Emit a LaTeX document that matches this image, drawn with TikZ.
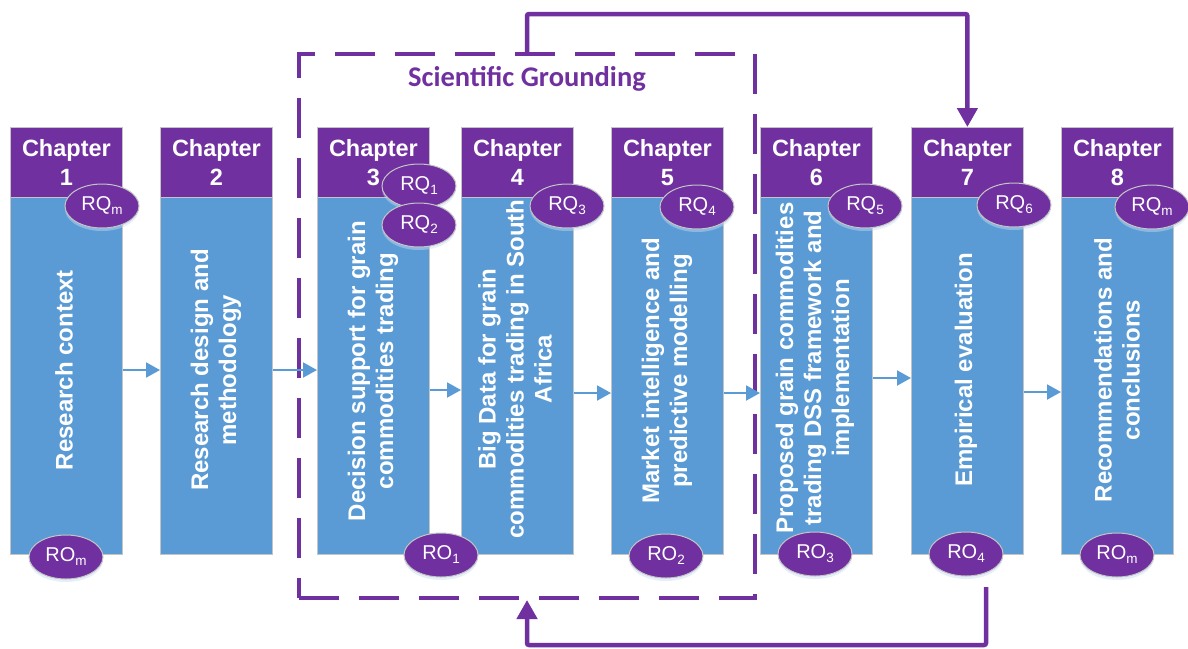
\documentclass[tikz,border=0pt]{standalone}
\usepackage{fontspec}
\setmainfont{Liberation Sans}
\newfontfamily\calibfont{Carlito}
\usetikzlibrary{arrows.meta,shapes.geometric,shadows}
\definecolor{vpurple}{HTML}{7030A0}
\definecolor{vblue}{HTML}{5B9BD5}
\definecolor{vgrey}{HTML}{C4C4C4}
\newcommand{\sbs}[1]{\raisebox{-0.2em}{\fontsize{13.5}{13.5}\selectfont #1}}
\begin{document}
\begin{tikzpicture}[x=1pt,y=-1pt,
  header/.style={draw=vgrey, line width=0.8pt, fill=vpurple, text=white,
    minimum width=112pt, minimum height=70pt, inner sep=0pt, align=center,
    font=\bfseries\fontsize{23.5}{29}\selectfont, anchor=north west},
  body/.style={draw=vgrey, line width=0.8pt, fill=vblue,
    minimum width=112pt, minimum height=357pt, inner sep=0pt, anchor=north west},
  chaptext/.style={text=white, rotate=90, align=center, inner sep=0pt,
    font=\bfseries\fontsize{24}{28}\selectfont},
  tag/.style={ellipse, draw=vgrey, line width=1pt, fill=vpurple, text=white,
    minimum width=74pt, minimum height=44pt, inner sep=0pt,
    font=\fontsize{20}{20}\selectfont,
    drop shadow={shadow xshift=0pt, shadow yshift=-3pt, fill=vblue!35, opacity=0.45}},
  flow/.style={vblue, line width=2pt, -{Triangle[length=14pt,width=15pt]}},
  loopback/.style={vpurple, line width=4.5pt, rounded corners=2pt, -{Triangle[length=19pt,width=20pt]}},
  frame/.style={draw=vpurple, line width=4pt, dash pattern=on 40pt off 20pt,
    minimum width=456pt, minimum height=544pt, inner sep=0pt, anchor=north west},
]
\useasboundingbox (0,0) rectangle (1188,648);

% dashed frame
\node[frame] (sg) at (297,52) {};
\node[text=vpurple, font=\calibfont\bfseries\fontsize{28.5}{32}\selectfont] (sgt) at (527,79) {Scientific Grounding};

% chapter boxes
\node[header] (h1) at (10,127) {Chapter\\1};
\node[body] (b1) at (10,197) {};
\node[header] (h2) at (160,127) {Chapter\\2};
\node[body] (b2) at (160,197) {};
\node[header] (h3) at (317,127) {Chapter\\3};
\node[body] (b3) at (317,197) {};
\node[header] (h4) at (461,127) {Chapter\\4};
\node[body] (b4) at (461,197) {};
\node[header] (h5) at (611,127) {Chapter\\5};
\node[body] (b5) at (611,197) {};
\node[header] (h6) at (760,127) {Chapter\\6};
\node[body] (b6) at (760,197) {};
\node[header] (h7) at (911,127) {Chapter\\7};
\node[body] (b7) at (911,197) {};
\node[header] (h8) at (1061,127) {Chapter\\8};
\node[body] (b8) at (1061,197) {};

% body texts
\node[chaptext] (t1) at (64,370) {Research context};
\node[chaptext] (t2) at (216,370) {Research design and\\methodology};
\node[chaptext] (t3) at (373,371) {Decision support for grain\\commodities trading};
\node[chaptext] (t4) at (515,369) {Big Data for grain\\commodities trading in South\\Africa};
\node[chaptext] (t5) at (667,371) {Market intelligence and\\predictive modelling};
\node[chaptext] (t6) at (815,368) {Proposed grain commodities\\trading DSS framework and\\implementation};
\node[chaptext] (t7) at (966,370) {Empirical evaluation};
\node[chaptext] (t8) at (1117,370) {Recommendations and\\conclusions};

% flow arrows
\coordinate (y12) at (0,370);
\coordinate (y23) at (0,370);
\coordinate (y34) at (0,390);
\coordinate (y45) at (0,393);
\coordinate (y56) at (0,393);
\coordinate (y67) at (0,378);
\coordinate (y78) at (0,392);
\draw[flow] (b1.east |- y12) -- (b2.west |- y12);
\draw[flow] (b2.east |- y23) -- (b3.west |- y23);
\draw[flow] (b3.east |- y34) -- (b4.west |- y34);
\draw[flow] (b4.east |- y45) -- (b5.west |- y45);
\draw[flow] (b5.east |- y56) -- (b6.west |- y56);
\draw[flow] (b6.east |- y67) -- (b7.west |- y67);
\draw[flow] (b7.east |- y78) -- (b8.west |- y78);

% research question tags
\node[tag] (q1) at (102,206) {RQ\sbs{m}};
\node[tag] (q3a) at (419,186) {RQ\sbs{1}};
\node[tag] (q3b) at (419,225) {RQ\sbs{2}};
\node[tag] (q4) at (567,206) {RQ\sbs{3}};
\node[tag] (q5) at (697,207) {RQ\sbs{4}};
\node[tag] (q6) at (865,206) {RQ\sbs{5}};
\node[tag] (q7) at (1014,205) {RQ\sbs{6}};
\node[tag] (q8) at (1152,207) {RQ\sbs{m}};

% research objective tags
\node[tag] (o1) at (66,557) {RO\sbs{m}};
\node[tag] (o3) at (441,555) {RO\sbs{1}};
\node[tag] (o5) at (666,556) {RO\sbs{2}};
\node[tag] (o6) at (815,554) {RO\sbs{3}};
\node[tag] (o7) at (966,554) {RO\sbs{4}};
\node[tag] (o8) at (1117,555) {RO\sbs{m}};

% feedback loops
\coordinate (topy) at (0,14);
\coordinate (boty) at (0,645);
\coordinate (fb) at (986,587);
\draw[loopback] (sg.north) -- (sg.north |- topy) -| (h7.north);
\draw[loopback] (fb) -- (fb |- boty) -| (sg.south);
\end{tikzpicture}
\end{document}
